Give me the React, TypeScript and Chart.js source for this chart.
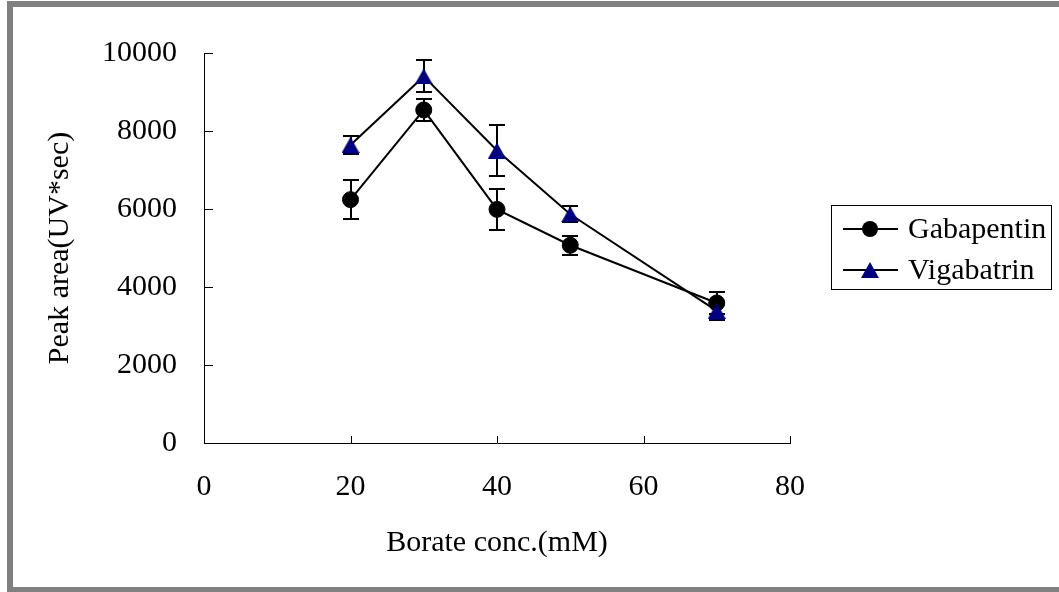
import React, { useEffect, useRef } from 'react';
import { Chart, registerables } from 'chart.js';

Chart.register(...registerables);

// ---- data ----
const concentrations = [20, 30, 40, 50, 70];
const gabapentinArea = [6240, 8540, 5990, 5070, 3590];
const gabapentinErr = [500, 275, 520, 250, 280];
const vigabatrinArea = [7640, 9400, 7500, 5865, 3390];
const vigabatrinErr = [230, 410, 660, 200, 235];
const seriesNames = ['Gabapentin', 'Vigabatrin'];
const xTickValues = [0, 20, 40, 60, 80];
const yTickValues = [0, 2000, 4000, 6000, 8000, 10000];
const xTitle = 'Borate conc.(mM)';
const yTitle = 'Peak area(UV*sec)';

const FONT = '"Liberation Serif", "Times New Roman", serif';
const NAVY = '#000080';

const toPoints = (ys: number[]) => concentrations.map((x, i) => ({ x, y: ys[i] }));

function makeTriangle(w: number, h: number, color: string) {
  const c = document.createElement('canvas');
  c.width = w;
  c.height = h;
  const g = c.getContext('2d')!;
  g.fillStyle = color;
  g.beginPath();
  g.moveTo(w / 2, 0);
  g.lineTo(w, h);
  g.lineTo(0, h);
  g.closePath();
  g.fill();
  return c;
}

const errorBarPlugin = {
  id: 'errorBars',
  beforeDatasetsDraw(chart: any) {
    const { ctx, scales } = chart;
    const xs = scales.x;
    const ysc = scales.y;
    ctx.save();
    ctx.strokeStyle = '#000';
    ctx.lineWidth = 2;
    chart.data.datasets.forEach((ds: any) => {
      const errs: number[] = ds.errorBars || [];
      ds.data.forEach((p: any, i: number) => {
        const e = errs[i];
        if (e == null) return;
        const px = Math.round(xs.getPixelForValue(p.x));
        const top = Math.round(ysc.getPixelForValue(p.y + e));
        const bot = Math.round(ysc.getPixelForValue(p.y - e));
        ctx.beginPath();
        ctx.moveTo(px, top);
        ctx.lineTo(px, bot);
        ctx.moveTo(px - 8, top);
        ctx.lineTo(px + 8, top);
        ctx.moveTo(px - 8, bot);
        ctx.lineTo(px + 8, bot);
        ctx.stroke();
      });
    });
    ctx.restore();
  },
};

const innerTicksPlugin = {
  id: 'innerTicks',
  afterDraw(chart: any) {
    const { ctx, scales, chartArea } = chart;
    ctx.save();
    ctx.strokeStyle = '#000';
    ctx.lineWidth = 1;
    ctx.beginPath();
    xTickValues.forEach((v) => {
      const px = Math.round(scales.x.getPixelForValue(v)) + 0.5;
      ctx.moveTo(px, chartArea.bottom);
      ctx.lineTo(px, chartArea.bottom - 7);
    });
    yTickValues.forEach((v) => {
      const py = Math.round(scales.y.getPixelForValue(v)) + 0.5;
      ctx.moveTo(chartArea.left, py);
      ctx.lineTo(chartArea.left + 9, py);
    });
    ctx.stroke();
    ctx.restore();
  },
};

const boxLegendPlugin = {
  id: 'boxLegend',
  afterDraw(chart: any) {
    const { ctx } = chart;
    ctx.save();
    ctx.strokeStyle = '#000';
    ctx.lineWidth = 1;
    ctx.strokeRect(831.5, 205.5, 220, 84);
    const rows = [229, 270];
    chart.data.datasets.forEach((ds: any, i: number) => {
      const y = rows[i];
      ctx.strokeStyle = '#000';
      ctx.lineWidth = 2;
      ctx.beginPath();
      ctx.moveTo(843, y);
      ctx.lineTo(898, y);
      ctx.stroke();
      if (ds.pointStyle instanceof HTMLCanvasElement) {
        const img = ds.pointStyle as HTMLCanvasElement;
        ctx.drawImage(img, 870 - img.width / 2, y - img.height / 2);
      } else {
        ctx.fillStyle = ds.pointBackgroundColor;
        ctx.beginPath();
        ctx.arc(870, y, 8, 0, Math.PI * 2);
        ctx.fill();
      }
      ctx.fillStyle = '#000';
      ctx.font = `30px ${FONT}`;
      ctx.textAlign = 'left';
      ctx.textBaseline = 'middle';
      ctx.fillText(ds.label, 908, y + 1);
    });
    ctx.restore();
  },
};

export default function App() {
  const ref = useRef<HTMLCanvasElement>(null);

  useEffect(() => {
    const canvas = ref.current;
    if (!canvas) return;
    const triangle = makeTriangle(18, 16, NAVY);
    const chart = new Chart(canvas, {
      type: 'line',
      data: {
        datasets: [
          {
            label: seriesNames[0],
            data: toPoints(gabapentinArea),
            errorBars: gabapentinErr,
            borderColor: '#000',
            borderWidth: 2,
            pointStyle: 'circle',
            pointRadius: 8,
            pointBackgroundColor: '#000',
            pointBorderColor: '#000',
            pointBorderWidth: 1,
            tension: 0,
            fill: false,
            order: 1,
          } as any,
          {
            label: seriesNames[1],
            data: toPoints(vigabatrinArea),
            errorBars: vigabatrinErr,
            borderColor: '#000',
            borderWidth: 2,
            pointStyle: triangle,
            pointRadius: 9,
            pointBackgroundColor: NAVY,
            pointBorderColor: NAVY,
            pointBorderWidth: 1,
            tension: 0,
            fill: false,
            order: 0,
          } as any,
        ],
      },
      options: {
        responsive: false,
        maintainAspectRatio: false,
        animation: false,
        layout: { padding: { top: 53, right: 269, left: 0, bottom: 0 } },
        plugins: {
          legend: { display: false },
          tooltip: { enabled: false },
        },
        scales: {
          x: {
            type: 'linear',
            position: 'bottom',
            min: 0,
            max: 80,
            afterBuildTicks: (s: any) => {
              s.ticks = xTickValues.map((v) => ({ value: v }));
            },
            afterFit: (s: any) => {
              s.height = 149;
            },
            grid: { display: false, drawTicks: false },
            border: { display: true, color: '#000', width: 1 },
            ticks: {
              padding: 26,
              color: '#000',
              font: { family: FONT, size: 30 },
              maxRotation: 0,
              callback: (v: any) => String(v),
            },
            title: {
              display: true,
              text: xTitle,
              color: '#000',
              font: { family: FONT, size: 30 },
              padding: { top: 0, bottom: 31 },
            },
          },
          y: {
            type: 'linear',
            min: 0,
            max: 10000,
            afterBuildTicks: (s: any) => {
              s.ticks = yTickValues.map((v) => ({ value: v }));
            },
            afterFit: (s: any) => {
              s.width = 204;
            },
            grid: { display: false, drawTicks: false },
            border: { display: true, color: '#000', width: 1 },
            ticks: {
              padding: 27,
              color: '#000',
              font: { family: FONT, size: 30 },
              callback: (v: any) => String(v),
            },
            title: {
              display: true,
              text: yTitle,
              color: '#000',
              font: { family: FONT, size: 30 },
              padding: { top: 42, bottom: 0 },
            },
          },
        },
      } as any,
      plugins: [errorBarPlugin, innerTicksPlugin, boxLegendPlugin],
    });
    return () => chart.destroy();
  }, []);

  return (
    <div
      style={{
        position: 'fixed',
        left: 0,
        top: 0,
        width: 1059,
        height: 592,
        background: '#fff',
        overflow: 'hidden',
      }}
    >
      <div
        style={{
          position: 'absolute',
          left: 7,
          top: 1,
          width: 1100,
          height: 592,
          border: '6px solid #808080',
          boxSizing: 'border-box',
        }}
      />
      <canvas
        ref={ref}
        width={1059}
        height={592}
        style={{ position: 'absolute', left: 0, top: 0, width: 1059, height: 592 }}
      />
    </div>
  );
}
